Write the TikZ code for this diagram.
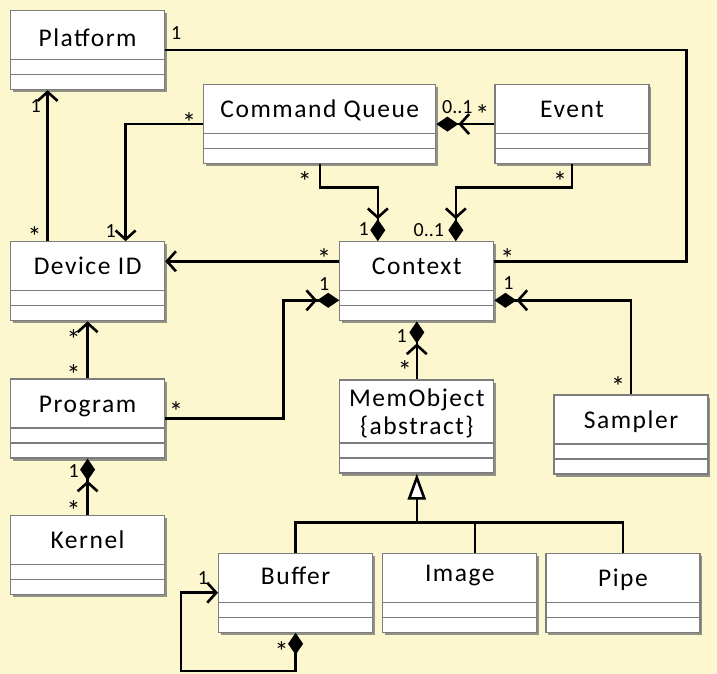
\documentclass[tikz,border=0pt]{standalone}
\usepackage{fontspec}
\setmainfont{Carlito}
\newfontfamily\classfont[LetterSpace=6]{Carlito}
\usepackage{tikz}
\usetikzlibrary{arrows.meta,positioning,shadows}

\definecolor{paper}{RGB}{252,247,207}
\definecolor{frame}{RGB}{125,125,125}
\newcommand{\mstar}{\raisebox{-5pt}{\fontsize{28}{28}\selectfont*}}

\begin{document}
\begin{tikzpicture}[
    classbox/.style={draw=frame, fill=white, line width=1.2pt, minimum width=154pt, minimum height=79pt, inner xsep=2pt, inner ysep=0pt, text height=33pt, text depth=46pt, font=\classfont\fontsize{25.5}{28}\selectfont,
        drop shadow={shadow xshift=2pt, shadow yshift=-2.5pt, fill=black!60, opacity=.7},
        path picture={\draw[frame, line width=1.2pt] ([yshift=30pt]path picture bounding box.south west) -- ([yshift=30pt]path picture bounding box.south east);
            \draw[frame, line width=1.2pt] ([yshift=15pt]path picture bounding box.south west) -- ([yshift=15pt]path picture bounding box.south east);}},
    mult/.style={font=\fontsize{20}{22}\selectfont, inner sep=0pt, text height=12pt, text depth=0pt},
    link/.style={line width=2.6pt},
    assoc/.style={link, -{Straight Barb[length=9pt,width=20pt]}},
    compos/.style={link, -{Straight Barb[length=9pt,width=20pt]Diamond[length=22pt,width=15pt]}},
    gener/.style={link, -{Triangle[length=26pt,width=18pt,fill=white]}}
]

\fill[paper] (0,0) rectangle (717pt,-674pt);

\node[classbox, anchor=north west, text height=36pt, text depth=43pt] (platform) at (10pt,-10pt) {Platform};
\node[classbox, right=38pt of platform, yshift=-74pt, minimum width=232pt] (cmdq) {Command Queue};
\node[classbox, right=58pt of cmdq] (event) {Event};
\node[classbox, below=151pt of platform] (devid) {Device ID};
\node[classbox, right=174pt of devid] (context) {Context};
\node[classbox, below=57pt of devid] (program) {Program};
\node[classbox, below=56pt of program] (kernel) {Kernel};
\node[classbox, below=58pt of context, minimum height=93pt, text height=26pt, text depth=67pt] (memobj) {\begin{tabular}[t]{@{}c@{}}MemObject\\\{abstract\}\end{tabular}};
\node[classbox, below right=73pt and 59pt of context] (sampler) {Sampler};
\node[classbox, below=79pt of memobj, xshift=43pt, text height=28pt, text depth=51pt] (image) {Image};
\node[classbox, left=9pt of image, text height=31pt, text depth=48pt] (buffer) {Buffer};
\node[classbox, right=8pt of image] (pipe) {Pipe};

% associations
\draw[link] (platform.east) node[mult, shift={(11pt,16.5pt)}] {1} -- ++(521pt,0) |- ([yshift=20pt]context.east) node[mult, shift={(13pt,4pt)}] {\mstar};
\draw[assoc] ([xshift=-40pt]devid.north) node[mult, shift={(-13pt,6pt)}] {\mstar} -- ([xshift=-40pt]platform.south) node[mult, shift={(-12pt,-16pt)}] {1};
\draw[assoc] (cmdq.west) node[mult, shift={(-14pt,2.5pt)}] {\mstar} -| ([xshift=38pt]devid.north) node[mult, shift={(-15pt,10pt)}] {1};
\draw[assoc] ([yshift=20pt]context.west) node[mult, shift={(-15pt,4pt)}] {\mstar} -- ([yshift=20pt]devid.east);
\draw[assoc] (program.north) node[mult, shift={(-14pt,5pt)}] {\mstar} -- (devid.south) node[mult, shift={(-14pt,-17pt)}] {\mstar};

% compositions
\draw[compos] (cmdq.south) node[mult, shift={(-15pt,-16pt)}] {\mstar} -- ++(0,-23pt) -| ([xshift=-39pt]context.north) node[mult, shift={(-14pt,12pt)}] {1};
\draw[compos] (event.south) node[mult, shift={(-12pt,-16pt)}] {\mstar} -- ++(0,-23pt) -| ([xshift=39pt]context.north) node[mult, shift={(-27pt,11pt)}] {0..1};
\draw[compos] (event.west) node[mult, shift={(-12pt,10.5pt)}] {\mstar} -- (cmdq.east) node[mult, shift={(21pt,16.5pt)}] {0..1};
\draw[compos] (program.east) node[mult, shift={(11pt,8.5pt)}] {\mstar} -- ++(118pt,0) |- ([yshift=-19pt]context.west) node[mult, shift={(-15pt,16pt)}] {1};
\draw[compos] (sampler.north) node[mult, shift={(-13pt,9pt)}] {\mstar} |- ([yshift=-19pt]context.east) node[mult, shift={(14pt,17pt)}] {1};
\draw[compos] (memobj.north) node[mult, shift={(-12pt,10pt)}] {\mstar} -- (context.south) node[mult, shift={(-15pt,-15pt)}] {1};
\draw[compos] (kernel.north) node[mult, shift={(-14pt,5pt)}] {\mstar} -- (program.south) node[mult, shift={(-14pt,-13pt)}] {1};
\draw[link, {Diamond[length=22pt,width=15pt]}-{Straight Barb[length=9pt,width=20pt]}] (buffer.south) node[mult, shift={(-14pt,-18pt)}] {\mstar} -- ++(0,-38pt) -| ([xshift=-37pt]buffer.west) -- (buffer.west) node[mult, shift={(-15pt,14.5pt)}] {1};

% generalization
\coordinate[below=49pt of memobj] (fork);
\draw[gener] (fork) -- (memobj.south);
\draw[link] (buffer.north) |- (fork) -| (pipe.north);
\draw[link] ([xshift=15pt]image.north) -- ([xshift=15pt]image.north |- fork);

\end{tikzpicture}
\end{document}
